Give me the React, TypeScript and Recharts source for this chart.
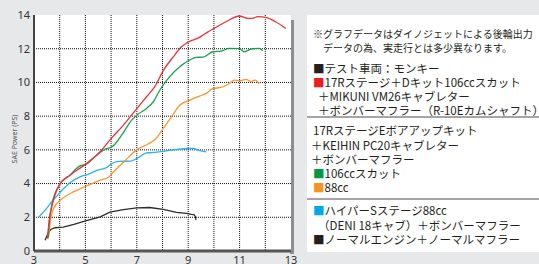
import React from 'react';
import { LineChart, Line, XAxis, YAxis, CartesianGrid } from 'recharts';

const xTicks = [3, 5, 7, 9, 11, 13];
const yTicks = [0, 2, 4, 6, 8, 10, 12, 14];
const gridX = [4, 5, 6, 7, 8, 9, 10, 11, 12];
const gridY = [2, 4, 6, 8, 10, 12];

const normal = [
  { x: 3.43, y: 0.64 }, { x: 3.55, y: 1.05 }, { x: 3.65, y: 1.28 }, { x: 3.82, y: 1.38 },
  { x: 4.14, y: 1.42 }, { x: 4.55, y: 1.58 }, { x: 5.04, y: 1.8 }, { x: 5.58, y: 2.03 },
  { x: 5.95, y: 2.3 }, { x: 6.48, y: 2.46 }, { x: 7.0, y: 2.56 }, { x: 7.5, y: 2.58 },
  { x: 8.03, y: 2.47 }, { x: 8.54, y: 2.29 }, { x: 8.93, y: 2.23 }, { x: 9.12, y: 2.17 },
  { x: 9.22, y: 2.16 }, { x: 9.28, y: 2.05 }, { x: 9.3, y: 1.84 },
];

const hyperS = [
  { x: 3.17, y: 1.99 }, { x: 3.45, y: 2.45 }, { x: 3.69, y: 2.92 }, { x: 4.0, y: 3.45 },
  { x: 4.4, y: 4.05 }, { x: 4.79, y: 4.4 }, { x: 5.1, y: 4.55 }, { x: 5.45, y: 4.78 },
  { x: 5.82, y: 4.95 }, { x: 6.1, y: 5.25 }, { x: 6.34, y: 5.32 }, { x: 6.73, y: 5.33 },
  { x: 7.12, y: 5.6 }, { x: 7.38, y: 5.82 }, { x: 7.77, y: 5.86 }, { x: 8.15, y: 5.94 },
  { x: 8.54, y: 6.02 }, { x: 9.0, y: 6.08 }, { x: 9.19, y: 6.08 }, { x: 9.44, y: 5.95 },
  { x: 9.7, y: 5.88 },
];

const cc88 = [
  { x: 3.57, y: 0.83 }, { x: 3.65, y: 1.9 }, { x: 3.77, y: 2.55 }, { x: 4.09, y: 3.1 },
  { x: 4.55, y: 3.52 }, { x: 4.92, y: 3.78 }, { x: 5.25, y: 4.0 }, { x: 5.57, y: 4.2 },
  { x: 5.9, y: 4.38 }, { x: 6.1, y: 4.7 }, { x: 6.54, y: 5.35 }, { x: 6.99, y: 6.0 },
  { x: 7.44, y: 6.35 }, { x: 7.7, y: 6.6 }, { x: 8.03, y: 7.27 }, { x: 8.35, y: 7.96 },
  { x: 8.67, y: 8.65 }, { x: 9.06, y: 8.95 }, { x: 9.44, y: 9.19 }, { x: 9.7, y: 9.35 },
  { x: 9.96, y: 9.64 }, { x: 10.28, y: 9.7 }, { x: 10.6, y: 9.94 }, { x: 10.8, y: 10.14 },
  { x: 11.0, y: 10.1 }, { x: 11.25, y: 10.18 }, { x: 11.45, y: 10.04 }, { x: 11.55, y: 10.12 },
  { x: 11.63, y: 10.14 }, { x: 11.7, y: 10.02 }, { x: 11.76, y: 9.9 },
];

const cc106 = [
  { x: 3.55, y: 0.74 }, { x: 3.6, y: 1.8 }, { x: 3.69, y: 2.7 }, { x: 3.98, y: 3.9 },
  { x: 4.4, y: 4.5 }, { x: 4.79, y: 5.05 }, { x: 5.0, y: 5.12 }, { x: 5.45, y: 5.7 },
  { x: 5.7, y: 5.98 }, { x: 6.09, y: 6.25 }, { x: 6.41, y: 6.87 }, { x: 6.8, y: 7.76 },
  { x: 7.0, y: 8.06 }, { x: 7.38, y: 8.46 }, { x: 7.64, y: 8.85 }, { x: 7.9, y: 9.55 },
  { x: 8.28, y: 10.34 }, { x: 8.67, y: 10.93 }, { x: 9.06, y: 11.33 }, { x: 9.31, y: 11.49 },
  { x: 9.57, y: 11.5 }, { x: 9.96, y: 11.82 }, { x: 10.28, y: 11.86 }, { x: 10.6, y: 12.02 },
  { x: 11.0, y: 12.0 }, { x: 11.18, y: 11.82 }, { x: 11.44, y: 11.98 }, { x: 11.76, y: 12.02 },
  { x: 11.9, y: 11.88 },
];

const dkit106 = [
  { x: 3.52, y: 0.74 }, { x: 3.6, y: 1.9 }, { x: 3.69, y: 2.62 }, { x: 4.0, y: 3.95 },
  { x: 4.4, y: 4.5 }, { x: 4.92, y: 5.05 }, { x: 5.58, y: 5.9 }, { x: 6.0, y: 6.67 },
  { x: 6.48, y: 7.47 }, { x: 7.0, y: 8.45 }, { x: 7.38, y: 9.15 }, { x: 7.7, y: 9.75 },
  { x: 8.03, y: 10.7 }, { x: 8.41, y: 11.5 }, { x: 8.73, y: 12.1 }, { x: 9.0, y: 12.4 },
  { x: 9.44, y: 12.67 }, { x: 9.77, y: 13.0 }, { x: 10.0, y: 13.2 }, { x: 10.47, y: 13.6 },
  { x: 10.99, y: 13.94 }, { x: 11.31, y: 13.8 }, { x: 11.5, y: 13.8 }, { x: 11.7, y: 13.9 },
  { x: 12.02, y: 13.86 }, { x: 12.4, y: 13.6 }, { x: 12.8, y: 13.2 },
];

const series = [
  { name: 'normal', data: normal, color: '#2b2b2b' },
  { name: 'hyperS', data: hyperS, color: '#29b1e9' },
  { name: '88cc', data: cc88, color: '#f6982e' },
  { name: '106cc', data: cc106, color: '#16a04e' },
  { name: 'dkit', data: dkit106, color: '#ec3035' },
];

const noteLines = [
  { text: '※グラフデータはダイノジェットによる後輪出力', cy: 33, x: 313 },
  { text: 'データの為、実走行とは多少異なります。', cy: 47, x: 323 },
];

const legendLines = [
  { sq: '#231f20', text: 'テスト車両：モンキー', cy: 68, x: 313 },
  { sq: '#ed1c24', text: '17Rステージ＋Dキット106ccスカット', cy: 82, x: 313 },
  { sq: '', text: '＋MIKUNI VM26キャブレター', cy: 96, x: 318 },
  { sq: '', text: '＋ボンバーマフラー（R-10Eカムシャフト）', cy: 110, x: 318 },
  { sq: '', text: '17RステージEボアアップキット', cy: 130, x: 313 },
  { sq: '', text: '＋KEIHIN PC20キャブレター', cy: 145, x: 311 },
  { sq: '', text: '＋ボンバーマフラー', cy: 159, x: 311 },
  { sq: '#009944', text: '106ccスカット', cy: 173, x: 313 },
  { sq: '#f7931e', text: '88cc', cy: 187, x: 313 },
  { sq: '#00a9e8', text: 'ハイパーSステージ88cc', cy: 210, x: 313 },
  { sq: '', text: '（DENI 18キャブ）＋ボンバーマフラー', cy: 225, x: 318 },
  { sq: '#231f20', text: 'ノーマルエンジン＋ノーマルマフラー', cy: 239, x: 313 },
];

const jp = '"Noto Sans CJK JP", "Noto Sans", sans-serif';

export default function App() {
  return (
    <div style={{ position: 'absolute', left: 0, top: 0, width: 539, height: 264, background: '#e7e8ea', overflow: 'hidden' }}>
      <div style={{ position: 'absolute', left: 290, top: 20, width: 4, height: 234, background: '#8e8e8e' }} />
      <div style={{ position: 'absolute', left: 0, top: 0 }}>
        <LineChart width={300} height={264} margin={{ top: 15, right: 9, left: 0, bottom: 0 }}>
          <CartesianGrid
            fill="#ffffff"
            stroke="#111111"
            strokeDasharray="1 1"
            verticalValues={gridX}
            horizontalValues={gridY}
          />
          <XAxis
            type="number"
            dataKey="x"
            domain={[3, 13]}
            ticks={xTicks}
            allowDataOverflow
            height={13}
            tickLine={false}
            tickSize={0}
            tickMargin={5}
            axisLine={{ stroke: '#555555', strokeWidth: 3 }}
            tick={{ fontSize: 11, fill: '#333', fontFamily: '"Noto Sans", sans-serif' }}
          />
          <YAxis
            type="number"
            dataKey="y"
            domain={[0, 14]}
            ticks={yTicks}
            width={34}
            tickLine={false}
            tickSize={0}
            tickMargin={4}
            axisLine={{ stroke: '#444444', strokeWidth: 2 }}
            tick={{ fontSize: 11, fill: '#333', fontFamily: '"Noto Sans", sans-serif' }}
            label={{
              content: (props: any) => {
                const vb = props.viewBox || { x: 0, y: 15, width: 34, height: 236 };
                const cx = vb.x + 15;
                const cy = vb.y + vb.height / 2 + 6;
                return (
                  <text x={cx} y={cy} transform={`rotate(-90 ${cx} ${cy})`} textAnchor="middle" dominantBaseline="middle" fontSize={7} fill="#555" fontFamily='"Noto Sans", sans-serif'>
                    SAE Power (PS)
                  </text>
                );
              },
            }}
          />
          {series.map((s) => (
            <Line
              key={s.name}
              data={s.data}
              dataKey="y"
              type={s.name === 'normal' ? 'linear' : 'monotone'}
              stroke={s.color}
              strokeWidth={1.3}
              dot={false}
              activeDot={false}
              isAnimationActive={false}
            />
          ))}
        </LineChart>
      </div>
      <div style={{ position: 'absolute', left: 307, top: 15, width: 232, height: 237, background: '#ffffff' }} />
      <div style={{ position: 'absolute', left: 307, top: 116, width: 232, height: 2, background: '#a5a5a5' }} />
      <div style={{ position: 'absolute', left: 307, top: 198, width: 232, height: 2, background: '#a5a5a5' }} />
      {noteLines.map((l, i) => (
        <div key={'n' + i} style={{ position: 'absolute', left: l.x, top: l.cy - 6.5, height: 13, lineHeight: '13px', fontSize: 10, fontFamily: jp, color: '#231f20', whiteSpace: 'nowrap' }}>
          {l.text}
        </div>
      ))}
      {legendLines.map((l, i) => (
        <div key={'l' + i} style={{ position: 'absolute', left: l.x, top: l.cy - 6.5, height: 13, lineHeight: '13px', fontSize: 11.5, fontFamily: jp, color: '#231f20', whiteSpace: 'nowrap' }}>
          {l.sq ? <span style={{ color: l.sq }}>■</span> : null}
          {l.text}
        </div>
      ))}
    </div>
  );
}
